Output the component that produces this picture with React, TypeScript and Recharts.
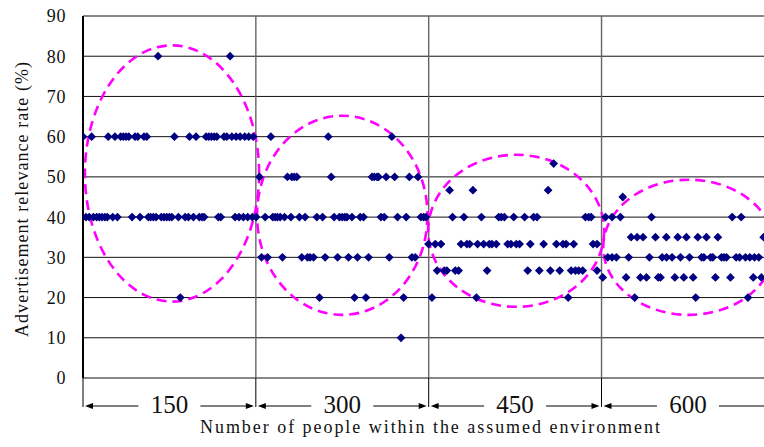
import React from 'react';
import { ScatterChart, Scatter, XAxis, YAxis, CartesianGrid, ReferenceArea, Label } from 'recharts';

// ---- categories / tick labels ----
const groupLabels = ['150', '300', '450', '600'];
const groupStart = [0, 100, 200, 300];
const groupEnd = [100, 200, 300, 400];
const yTicks = [0, 10, 20, 30, 40, 50, 60, 70, 80, 90];

// ---- observed points: x position along the sample axis, per relevance level ----
const row80 = [43.4, 85.1];
const row60 = [0, 5.0, 14.6, 18.5, 21.8, 23.3, 24.9, 26.5, 30.1, 31.7, 35.3, 36.9, 52.9, 61.6, 65.4, 71.2, 72.8, 74.3, 75.9, 77.4, 81.6, 83.2, 86.1, 88.6, 90.9, 93.6, 95.9, 98.5, 108.7, 141.9, 178.7];
const row53 = [272.3];
const row50 = [102.1, 118.3, 120.8, 122.2, 123.7, 143.6, 167.2, 168.5, 170.1, 171.0, 175.4, 180.3, 188.8, 193.8];
const row47 = [212.1, 225.6, 269.1];
const row45 = [312.3];
const row40 = [1.7, 3.6, 6.0, 7.9, 9.4, 11.0, 12.7, 14.1, 17.2, 19.9, 28.4, 33.0, 37.8, 39.1, 40.7, 42.3, 45.3, 46.9, 48.5, 50.0, 51.4, 55.2, 59.1, 61.0, 63.9, 67.3, 68.9, 70.1, 78.3, 79.7, 88.0, 90.3, 92.8, 95.3, 98.0, 100.2,
  105.4, 109.8, 111.2, 112.5, 114.1, 116.6, 120.3, 125.2, 128.5, 135.3, 138.6, 145.3, 148.4, 150.0, 151.5, 152.7, 155.6, 160.4, 162.3, 172.4, 174.3, 182.0, 187.0, 195.5, 197.1, 198.4,
  213.8, 220.4, 230.5, 240.5, 242.0, 243.8, 249.2, 255.5, 260.7, 262.7, 290.7, 292.6, 294.0,
  302.3, 306.1, 310.9, 328.9, 375.6, 380.8];
const row35 = [317.1, 320.6, 324.0, 331.2, 337.5, 344.1, 349.1, 355.7, 360.7, 367.3, 393.8];
const row33 = [199.9, 203.8, 207.1, 218.7, 222.1, 223.7, 228.3, 231.8, 235.1, 236.6, 239.1, 245.7, 247.6, 250.7, 252.6, 258.8, 266.5, 273.9, 277.7, 279.5, 283.9, 295.1, 297.4];
const row30 = [103.3, 106.8, 115.4, 126.6, 129.9, 131.4, 133.4, 140.1, 147.3, 153.6, 158.8, 165.2, 177.2, 190.3, 192.2,
  303.6, 306.1, 308.6, 315.7, 327.7, 335.1, 337.6, 340.8, 345.7, 350.9, 357.9, 359.2, 363.1, 364.4, 369.4, 370.8, 372.3, 377.9, 379.9, 383.3, 385.8, 388.5, 391.0];
const row27 = [204.9, 209.0, 210.5, 215.4, 217.3, 233.8, 257.3, 264.0, 270.4, 275.8, 282.4, 284.9, 286.8, 289.1, 297.4];
const row25 = [300.7, 314.2, 322.5, 326.0, 332.8, 334.1, 342.4, 347.6, 353.0, 365.9, 374.6, 387.8, 392.5];
const row20 = [56.3, 136.8, 157.1, 163.7, 185.5, 201.9, 227.6, 280.7, 319.2, 354.5, 384.7];
const row10 = [184.0];

const levels = [80, 60, 53.3, 50, 46.7, 45, 40, 35, 33.3, 30, 26.7, 25, 20, 10];
const levelRows = [row80, row60, row53, row50, row47, row45, row40, row35, row33, row30, row27, row25, row20, row10];

// ---- dashed ellipses enclosing each group ----
const ellipseX1 = [1.1, 100.7, 199.7, 301];
const ellipseX2 = [101.9, 199.3, 301.5, 400];
const ellipseYLow = [19.0, 15.7, 17.7, 15.7];
const ellipseYHigh = [82.7, 65.2, 55.5, 49.3];

const points = levels.flatMap((lv, i) => levelRows[i].map((x) => ({ x, y: lv })));

const FONT = "'Liberation Serif'";
const textStyle = { fontFamily: FONT };

const Diamond = (props: any) => {
  const { cx, cy } = props;
  const r = 4.4;
  return <path d={`M${cx},${cy - r}L${cx + r},${cy}L${cx},${cy + r}L${cx - r},${cy}Z`} fill="#000080" />;
};

const EllipseShape = (props: any) => {
  const { x, y, width, height } = props;
  return (
    <ellipse cx={x + width / 2} cy={y + height / 2} rx={Math.abs(width) / 2} ry={Math.abs(height) / 2}
      fill="none" stroke="#FF00FF" strokeWidth={2.6} strokeDasharray="10 6" />
  );
};

const makeBracket = (label: string, first: boolean) => (props: any) => {
  const { x, y, width, height } = props;
  const base = y + height;
  const ay = base + 28;
  const cx = x + width / 2;
  const gap = 31;
  const l = x + 2;
  const r = x + width - 2;
  return (
    <g>
      {!first && <line x1={x} y1={y} x2={x} y2={base} stroke="#666" strokeWidth={1.4} />}
      <line x1={x} y1={base} x2={x} y2={base + 29} stroke="#000" strokeWidth={1} />
      <line x1={l + 6} y1={ay} x2={cx - gap} y2={ay} stroke="#000" strokeWidth={1} />
      <path d={`M${l},${ay}L${l + 8},${ay - 3}L${l + 8},${ay + 3}Z`} fill="#000" />
      <line x1={cx + gap} y1={ay} x2={r - 6} y2={ay} stroke="#000" strokeWidth={1} />
      <path d={`M${r},${ay}L${r - 8},${ay - 3}L${r - 8},${ay + 3}Z`} fill="#000" />
      <text x={cx} y={base + 35} textAnchor="middle" fontSize={25} style={textStyle} fill="#111">{label}</text>
    </g>
  );
};

const YTick = (props: any) => {
  const { y, payload } = props;
  return (
    <text x={66} y={y} dy="0.36em" textAnchor="end" fontSize={18} letterSpacing={0.6} style={textStyle} fill="#111">
      {payload.value}
    </text>
  );
};

export default function App() {
  return (
    <div style={{ position: 'absolute', left: 0, top: 0, width: 764, height: 447, overflow: 'hidden', background: '#fff' }}>
      <ScatterChart width={764} height={447} margin={{ top: 16, right: 0, bottom: 0, left: 0 }}>
        <CartesianGrid vertical={false} stroke="#111" strokeWidth={1} />
        <XAxis type="number" dataKey="x" domain={[0, 394]} allowDataOverflow tick={false} tickLine={false} axisLine={false} height={69}>
          <Label content={() => (
            <text x={430} y={433} textAnchor="middle" fontSize={18} style={textStyle} fill="#111" textLength={460} lengthAdjust="spacing">
              Number of people within the assumed environment
            </text>
          )} />
        </XAxis>
        <YAxis type="number" dataKey="y" domain={[0, 90]} ticks={yTicks} interval={0} width={83}
          axisLine={{ stroke: '#000', strokeWidth: 2 }} tickLine={false} tick={<YTick />}>
          <Label content={() => (
            <text transform="translate(28, 199.5) rotate(-90)" x={0} y={0} textAnchor="middle" fontSize={18} style={textStyle} fill="#111" textLength={275} lengthAdjust="spacing">
              Advertisement relevance rate (%)
            </text>
          )} />
        </YAxis>
        {groupLabels.map((lab, i) => (
          <ReferenceArea key={'b' + i} x1={groupStart[i]} x2={groupEnd[i]} y1={0} y2={90} ifOverflow="visible" shape={makeBracket(lab, i === 0)} />
        ))}
        <Scatter data={points} shape={<Diamond />} isAnimationActive={false} />
        {ellipseX1.map((x1, i) => (
          <ReferenceArea key={'e' + i} x1={x1} x2={ellipseX2[i]} y1={ellipseYLow[i]} y2={ellipseYHigh[i]} ifOverflow="visible" shape={EllipseShape} />
        ))}
      </ScatterChart>
    </div>
  );
}
